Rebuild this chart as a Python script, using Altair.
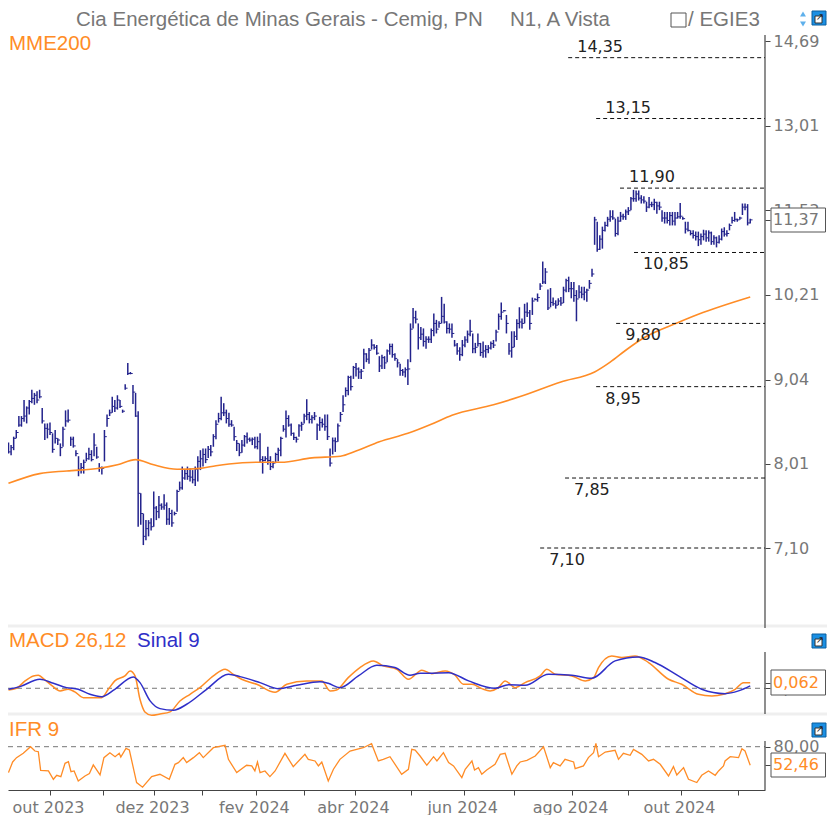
import altair as alt
import pandas as pd

highs = [
 8.26,8.23,8.33,8.41,8.58,8.58,8.78,8.70,8.78,8.91,
 8.87,8.89,8.91,8.68,8.49,8.49,8.50,8.37,8.41,8.31,
 8.25,8.45,8.65,8.66,8.33,8.33,8.17,8.10,8.02,8.06,
 8.14,8.20,8.17,8.37,8.21,8.02,7.98,8.41,8.60,8.66,
 8.82,8.78,8.84,8.78,8.66,8.98,9.26,9.14,8.97,8.87,
 8.64,7.68,7.46,7.39,7.39,7.41,7.70,7.54,7.65,7.57,
 7.67,7.58,7.52,7.50,7.48,7.72,7.81,7.98,7.94,7.98,
 7.96,7.94,7.98,8.10,8.17,8.19,8.19,8.22,8.23,8.36,
 8.53,8.62,8.82,8.74,8.66,8.62,8.53,8.45,8.29,8.25,
 8.29,8.35,8.38,8.32,8.32,8.33,8.33,8.37,8.10,8.10,
 8.21,8.10,8.04,8.14,8.20,8.33,8.47,8.65,8.59,8.49,
 8.38,8.33,8.48,8.51,8.61,8.79,8.63,8.59,8.63,8.49,
 8.57,8.55,8.60,8.60,8.19,8.32,8.32,8.49,8.63,8.84,
 8.94,9.09,9.09,9.22,9.26,9.20,9.18,9.45,9.39,9.46,
 9.58,9.51,9.50,9.35,9.37,9.35,9.44,9.52,9.52,9.39,
 9.31,9.25,9.18,9.20,9.31,9.80,10.02,9.98,9.80,9.75,
 9.73,9.62,9.62,9.73,9.94,9.85,9.83,10.18,10.08,9.83,
 9.80,9.80,9.57,9.53,9.47,9.57,9.62,9.70,9.85,9.66,
 9.53,9.66,9.53,9.55,9.50,9.50,9.55,9.57,9.71,9.94,
 10.10,9.99,9.92,9.53,9.69,9.69,9.86,10.03,9.87,10.08,
 10.10,9.99,10.17,10.16,10.23,10.38,10.71,10.61,10.29,10.31,
 10.17,10.13,10.16,10.18,10.33,10.45,10.48,10.40,10.40,10.28,
 10.35,10.33,10.33,10.30,10.43,10.60,11.42,11.34,11.12,11.26,
 11.34,11.42,11.53,11.53,11.39,11.42,11.50,11.47,11.54,11.58,
 11.75,11.87,11.86,11.86,11.78,11.76,11.67,11.75,11.67,11.72,
 11.67,11.67,11.53,11.50,11.50,11.50,11.50,11.50,11.50,11.65,
 11.42,11.34,11.34,11.20,11.20,11.18,11.18,11.15,11.21,11.20,
 11.20,11.18,11.12,11.10,11.12,11.23,11.25,11.20,11.31,11.42,11.50,
 11.39,11.42,11.64,11.64,11.63,11.39,
]
lows = [
 8.13,8.11,8.17,8.31,8.45,8.45,8.51,8.49,8.60,8.74,
 8.72,8.74,8.80,8.49,8.29,8.31,8.35,8.14,8.25,8.23,
 8.10,8.21,8.45,8.50,8.22,8.20,8.10,7.87,7.90,7.90,
 8.04,8.06,8.04,8.10,8.07,7.92,7.89,8.04,8.45,8.58,
 8.62,8.63,8.66,8.68,8.62,8.91,9.10,9.11,8.73,8.57,
 7.32,7.34,7.13,7.18,7.22,7.28,7.32,7.39,7.41,7.50,
 7.50,7.34,7.34,7.32,7.44,7.48,7.71,7.72,7.83,7.83,
 7.81,7.79,7.76,7.81,7.94,7.98,8.02,8.08,8.10,8.21,
 8.30,8.50,8.53,8.58,8.49,8.45,8.45,8.28,8.16,8.10,
 8.14,8.21,8.25,8.27,8.23,8.19,8.18,8.02,7.90,8.04,
 8.00,7.94,7.96,8.02,8.04,8.10,8.39,8.32,8.45,8.34,
 8.29,8.26,8.33,8.40,8.49,8.53,8.49,8.49,8.53,8.29,
 8.40,8.44,8.40,8.29,7.98,8.12,8.15,8.27,8.51,8.63,
 8.82,8.84,8.90,9.05,9.08,9.05,9.05,9.18,9.27,9.25,
 9.44,9.44,9.37,9.14,9.18,9.18,9.27,9.37,9.33,9.29,
 9.20,9.09,9.09,9.07,8.97,9.27,9.73,9.80,9.44,9.57,
 9.48,9.45,9.53,9.53,9.62,9.66,9.74,9.80,9.80,9.66,
 9.66,9.60,9.48,9.37,9.29,9.35,9.47,9.53,9.62,9.39,
 9.39,9.48,9.35,9.33,9.33,9.39,9.44,9.46,9.55,9.71,
 9.85,9.97,9.66,9.37,9.33,9.47,9.57,9.73,9.73,9.80,
 9.89,9.71,9.92,10.13,10.11,10.28,10.37,10.37,9.99,10.03,
 10.05,10.01,10.06,10.05,10.09,10.25,10.25,10.16,10.11,9.83,
 10.16,10.16,10.13,10.11,10.30,10.48,10.97,10.86,10.89,10.91,
 11.18,11.26,11.34,11.37,11.10,11.12,11.34,11.37,11.37,11.45,
 11.53,11.67,11.67,11.69,11.64,11.64,11.50,11.56,11.58,11.53,
 11.47,11.53,11.34,11.31,11.31,11.28,11.28,11.28,11.39,11.39,
 11.37,11.15,11.18,11.12,11.07,11.04,10.95,10.97,11.04,11.02,
 11.02,10.97,10.97,10.93,10.99,11.04,11.10,11.10,11.20,11.31,11.34,
 11.34,11.37,11.45,11.53,11.28,11.31,
]
closes = [
 8.15,8.20,8.31,8.38,8.47,8.55,8.58,8.68,8.76,8.80,
 8.84,8.78,8.82,8.52,8.43,8.42,8.38,8.18,8.31,8.29,
 8.20,8.42,8.52,8.53,8.30,8.22,8.13,7.95,7.97,8.03,
 8.07,8.12,8.06,8.23,8.09,7.97,7.96,8.33,8.55,8.62,
 8.70,8.68,8.78,8.70,8.64,8.93,9.12,9.12,8.88,8.58,
 7.68,7.46,7.22,7.30,7.36,7.32,7.52,7.48,7.55,7.53,
 7.55,7.40,7.46,7.36,7.46,7.70,7.74,7.85,7.90,7.87,
 7.86,7.83,7.95,8.04,8.07,8.12,8.06,8.18,8.15,8.33,
 8.48,8.55,8.62,8.62,8.55,8.48,8.47,8.33,8.25,8.14,
 8.23,8.33,8.30,8.29,8.30,8.21,8.27,8.06,8.05,8.07,
 8.05,7.98,8.02,8.12,8.17,8.31,8.42,8.55,8.47,8.37,
 8.32,8.30,8.46,8.48,8.58,8.60,8.54,8.56,8.58,8.47,
 8.50,8.48,8.45,8.33,8.02,8.28,8.27,8.46,8.60,8.72,
 8.90,9.07,8.95,9.20,9.18,9.14,9.15,9.38,9.31,9.43,
 9.50,9.47,9.39,9.22,9.33,9.26,9.42,9.48,9.37,9.32,
 9.26,9.16,9.14,9.17,9.18,9.72,9.88,9.86,9.60,9.65,
 9.55,9.58,9.58,9.70,9.80,9.72,9.80,9.90,9.82,9.73,
 9.72,9.66,9.50,9.42,9.37,9.50,9.57,9.65,9.69,9.45,
 9.47,9.52,9.40,9.42,9.44,9.46,9.52,9.50,9.68,9.90,
 9.96,9.98,9.80,9.42,9.47,9.62,9.80,9.82,9.80,9.96,
 9.95,9.80,10.12,10.14,10.17,10.34,10.40,10.55,10.02,10.10,
 10.08,10.06,10.12,10.09,10.28,10.42,10.30,10.30,10.20,10.15,
 10.25,10.22,10.25,10.28,10.38,10.52,11.37,10.90,11.06,11.20,
 11.28,11.38,11.42,11.40,11.15,11.35,11.43,11.42,11.50,11.52,
 11.72,11.72,11.80,11.73,11.70,11.68,11.58,11.62,11.62,11.66,
 11.60,11.58,11.40,11.40,11.36,11.44,11.35,11.40,11.42,11.43,
 11.39,11.22,11.20,11.15,11.12,11.10,11.05,11.10,11.14,11.08,
 11.16,11.02,11.08,11.01,11.06,11.18,11.14,11.15,11.28,11.36,11.38,
 11.37,11.40,11.58,11.58,11.32,11.37,
]

mme_idx = [0,12,22.5,35,42,49,56,65,74,80,85,97,105,117,128,134,143,154,163,171,187,197,213,226,232,238,245,258,266,286]
mme_val = [7.79,7.90,7.93,7.96,8.00,8.06,8.00,7.95,7.96,7.99,8.01,8.03,8.03,8.08,8.10,8.16,8.27,8.37,8.48,8.59,8.72,8.82,9.01,9.14,9.27,9.43,9.60,9.81,9.93,10.18]

macd_idx = [0,3.1,6.4,9.6,11.5,14,16.6,19.9,23,25.6,28.9,32,35.9,38.5,41,44.9,46.9,48.8,50.7,52.6,55.2,58.4,62.3,66.1,70,73.8,79,83.5,86.7,89.9,95.7,102.8,107.3,115,120.8,124,126.5,131,135.5,140.7,144.5,149.7,154.2,159.4,163.2,168.4,172.2,175.4,178.7,182.5,185.7,188.9,191.5,195.4,199.2,205,207.6,210.8,217.2,222.4,225.6,227.5,232.6,236.5,241.6,246.8,254.5,259.6,266,271.2,275.7,280.2,283.4,286]
macd_val = [-.018,0,.081,.136,.143,.092,.033,-.029,-.011,-.040,-.103,-.103,-.103,-.011,.081,.136,.191,.136,-.121,-.260,-.297,-.283,-.260,-.140,-.066,.007,.136,.209,.154,.099,.044,-.044,.044,.081,.081,-.029,-.018,.117,.228,.301,.246,.209,.099,.198,.161,.191,.143,.044,.044,-.004,-.029,.007,.081,.007,.062,.136,.209,.154,.136,.081,.117,.228,.356,.338,.356,.283,.099,.044,-.066,-.084,-.066,-.011,.062,.062]
sig_idx = [0,4.4,12.1,17.3,22.4,26.9,31.4,35.9,41,48.1,50.7,54.6,58.4,63.6,68.7,76.4,84.8,89.3,97,104,111.1,120.1,123.3,127.8,134.9,142,149,154.8,158.7,161.9,169.7,177.4,187.6,192.8,199.2,208.2,217.2,224.9,233.9,242.9,249.3,258.3,267.3,276.3,281.5,286]
sig_val = [-.011,.018,.099,.055,.007,-.011,-.066,-.092,-.011,.125,.062,-.139,-.224,-.242,-.176,-.011,.154,.128,.062,-.004,.033,.073,.055,.007,.136,.253,.228,.143,.165,.165,.172,.081,0,.040,.033,.154,.143,.110,.301,.345,.283,.136,-.011,-.059,-.029,.026]
ifr_idx = [0,1.6,3.1,5.7,8.5,10.2,11.5,12.4,15.4,17.3,18.6,20.2,21.8,23.1,24.1,25.3,26.9,29.5,31.2,32.7,35.3,36.8,39.1,41.1,42.7,43.3,45.3,46.6,49.4,51.7,55.2,58.4,62,64.2,65.5,67.4,68.7,71.3,73.6,75.1,79,83.5,84.8,88,91.8,93.8,95,96,97,98.9,100.8,102.8,106.6,109.8,114.3,115.6,118.2,119.5,120.8,123.3,125.3,127.8,131.7,136.8,140,142.6,144.5,147.1,151.6,154.2,155.5,156.8,158.7,161.3,163.9,165.2,167.7,169.7,171.6,174.8,176.1,178.7,179.7,181.2,182.5,184.4,187.6,189.6,191.5,194.1,196,197.3,199.9,203.1,206.3,208.9,210.1,212.7,214.6,217.9,218.5,221.7,223.6,225.6,226.5,227.5,230.1,233.9,235.2,237.1,239.7,241,244.2,246.8,248.7,251.3,254.5,256.4,257.7,260.3,262.2,265.4,267.3,269.9,272.5,273.8,275.7,276.3,278.3,281.5,282.8,284,286]
ifr_val = [41.6,57.4,63.8,70.2,80,73.6,72.6,45.1,44.1,31.8,37.7,35.7,55.4,57.9,43.1,44.1,29.3,36.7,40.2,53,38.2,63.8,71.1,65.2,70.2,64.8,77.5,75.1,26.9,20,35.7,39.2,31.8,53.9,56.4,63.8,56.4,63.8,71.1,63.8,78.5,82,61.3,41.6,52.5,51.5,44.1,57.4,41.6,44.1,35.7,44.1,70.2,50.5,68.7,61.3,58.9,51.5,57.4,29.3,46.6,61.3,73.6,78.5,84.4,58.9,61.3,65.2,39.2,46.6,76.1,75.1,66.2,52.5,65.2,58.9,71.1,56.4,51.5,34.3,46.6,58.9,45.6,49,39.2,45.6,53.9,68.7,70.2,39.2,51.5,57.4,59.8,66.2,80,49,56.4,51.5,61.3,57.4,47.5,51.5,63.8,71.1,84.9,65.2,72.1,74.6,61.3,70.2,67.2,76.1,68.7,58.9,61.3,53.9,36.7,50.5,38.2,49,31.8,26.9,37.7,44.1,37.7,44.1,51.5,58.9,65.2,63.8,77,73.6,52.46]

level_vals = [14.35,13.15,11.90,10.85,9.80,8.95,7.85,7.10]
level_text = ["14,35","13,15","11,90","10,85","9,80","8,95","7,85","7,10"]
level_start = [215.8,226.6,235.8,241.2,234.3,226.6,214.6,205.0]
level_above = [True,True,True,False,False,False,False,False]

price_ticks = [7.10,8.01,9.04,10.21,11.37,11.53,13.01,14.69]
month_ticks = [16.0,36.4,56.1,74.6,95.4,114.0,133.6,155.2,175.7,194.9,217.3,238.9,259.3,281.3]
month_names = ["out 2023","","dez 2023","","fev 2024","","abr 2024","","jun 2024","","ago 2024","","out 2024",""]

GREY = "#777777"
DARK = "#444444"
ORANGE = "#ff8c26"
NAVY = "#23238c"
BLUE = "#2f2fc8"
NUM = "DejaVu Sans"
SANS = "Liberation Sans"
W = 757
X_END = 291.7
one = alt.Data(values=[{"a": 1}])


def txt(s, x, y, color=GREY, size=20.5, font=SANS, align="left"):
    return alt.Chart(one).mark_text(text=s, color=color, fontSize=size, font=font, align=align, baseline="middle").encode(
        x=alt.value(x), y=alt.value(y))


def vline(y0, y1):
    return alt.Chart(one).mark_rule(color=DARK, strokeWidth=1.2).encode(x=alt.value(W), y=alt.value(y0), y2=alt.value(y1))


def box(y0, y1):
    return alt.Chart(one).mark_rect(fill="white", stroke="#555555", strokeWidth=1).encode(
        x=alt.value(763), x2=alt.value(817.5), y=alt.value(y0), y2=alt.value(y1))


def icon(x, y):
    sq = alt.Chart(one).mark_rect(fill="#1a8fe3", stroke="#0b5f9e").encode(
        x=alt.value(x - 7), x2=alt.value(x + 7), y=alt.value(y - 7), y2=alt.value(y + 7))
    inner = alt.Chart(one).mark_rect(fill="white", stroke="#333333", strokeWidth=1).encode(
        x=alt.value(x - 4), x2=alt.value(x + 3), y=alt.value(y - 2), y2=alt.value(y + 5))
    arrow = alt.Chart(one).mark_text(text="↗", color="#222222", fontSize=10, font=NUM).encode(
        x=alt.value(x + 1), y=alt.value(y - 1))
    return [sq, inner, arrow]


def sep(y):
    return alt.Chart(one).mark_rule(color="#efefef", strokeWidth=3).encode(
        x=alt.value(0), x2=alt.value(819), y=alt.value(y))


fmt2 = "(datum.value==11.37||datum.value==0.062||datum.value==52.46)?'':replace(format(datum.value,'.2f'),'.',',')"
xscale = alt.Scale(domain=[-0.19, X_END], nice=False, zero=False)


def yaxis(values):
    return alt.Axis(values=values, orient="right", title=None, grid=False, domain=False, tickColor=DARK, tickSize=5,
                    labelColor=GREY, labelFont=NUM, labelFontSize=16, labelPadding=3, labelExpr=fmt2, labelOverlap=False)


# ---------- price panel ----------
bars = pd.DataFrame({"i": range(len(highs)), "high": highs, "low": lows, "close": closes})
bars["ir"] = bars["i"] + 0.9
mme = pd.DataFrame({"i": mme_idx, "v": mme_val})
levels = pd.DataFrame({"v": level_vals, "t": level_text, "s": level_start, "above": level_above})
levels["e"] = X_END
levels["lx"] = levels["s"] + 3.5

ys = alt.Scale(type="log", domain=[6.33, 15.41], nice=False, zero=False)
X0 = alt.X("i:Q", scale=xscale, axis=None)
pa = yaxis(price_ticks)

range_rules = alt.Chart(bars).mark_rule(color=NAVY, strokeWidth=1.5).encode(
    x=X0, y=alt.Y("low:Q", scale=ys, axis=pa), y2="high:Q")
close_ticks = alt.Chart(bars).mark_rule(color=NAVY, strokeWidth=1).encode(
    x=X0, x2="ir:Q", y=alt.Y("close:Q", scale=ys, axis=pa))
mme_line = alt.Chart(mme).mark_line(color=ORANGE, strokeWidth=1.6, interpolate="monotone").encode(
    x=X0, y=alt.Y("v:Q", scale=ys, axis=pa))
lev_rules = alt.Chart(levels).mark_rule(color="#111111", strokeWidth=1, strokeDash=[4, 3]).encode(
    x=alt.X("s:Q", scale=xscale, axis=None), x2="e:Q", y=alt.Y("v:Q", scale=ys, axis=pa))
lab_up = alt.Chart(levels[levels.above]).mark_text(align="left", baseline="middle", dy=-11, fontSize=16, font=NUM, color="#222222").encode(
    x=alt.X("lx:Q", scale=xscale, axis=None), y=alt.Y("v:Q", scale=ys, axis=pa), text="t:N")
lab_dn = alt.Chart(levels[~levels.above]).mark_text(align="left", baseline="middle", dy=12, fontSize=16, font=NUM, color="#222222").encode(
    x=alt.X("lx:Q", scale=xscale, axis=None), y=alt.Y("v:Q", scale=ys, axis=pa), text="t:N")

head = [
    txt("Cia Energética de Minas Gerais - Cemig, PN", 68, 12),
    txt("N1, A Vista", 502, 12),
    alt.Chart(one).mark_rect(fill="white", stroke="#555555").encode(
        x=alt.value(663), x2=alt.value(678), y=alt.value(5), y2=alt.value(19)),
    txt("/ EGIE3", 680, 12),
    txt("MME200", 1, 36, color=ORANGE),
    alt.Chart(one).mark_point(shape="triangle-up", filled=True, color="#1a8fe3", size=35).encode(x=alt.value(795), y=alt.value(6)),
    alt.Chart(one).mark_point(shape="triangle-down", filled=True, color="#1a8fe3", size=35).encode(x=alt.value(795), y=alt.value(16)),
]
main = alt.layer(
    sep(618), vline(27, 620), range_rules, close_ticks, mme_line, lev_rules, lab_up, lab_dn,
    *head, *icon(811, 10), box(200, 224),
    alt.Chart(pd.DataFrame({"v": [11.37]})).mark_text(text="11,37", align="left", baseline="middle", fontSize=16, font=NUM, color=GREY).encode(
        x=alt.value(765), y=alt.Y("v:Q", scale=ys, axis=pa)),
).properties(width=W, height=620)

# ---------- MACD panel ----------
macd = pd.DataFrame({"i": macd_idx, "v": macd_val})
sig = pd.DataFrame({"i": sig_idx, "v": sig_val})
zero = pd.DataFrame({"v": [0.0], "s": [-0.19], "e": [X_END]})
ym = alt.Scale(domain=[-0.272, 0.652], nice=False, zero=False)
ma = yaxis([0, 0.062])
macd_line = alt.Chart(macd).mark_line(color=ORANGE, strokeWidth=1.5, interpolate="monotone").encode(
    x=X0, y=alt.Y("v:Q", scale=ym, axis=ma))
sig_line = alt.Chart(sig).mark_line(color=BLUE, strokeWidth=1.5, interpolate="monotone").encode(
    x=X0, y=alt.Y("v:Q", scale=ym, axis=ma))
zero_line = alt.Chart(zero).mark_rule(color=GREY, strokeWidth=1, strokeDash=[5, 4]).encode(
    x=alt.X("s:Q", scale=xscale, axis=None), x2="e:Q", y=alt.Y("v:Q", scale=ym, axis=ma))
macd_panel = alt.layer(
    sep(85), zero_line, vline(23, 85), macd_line, sig_line,
    txt("MACD 26,12", 1, 12, color=ORANGE), txt("Sinal 9", 129, 12, color=BLUE),
    *icon(811, 12), box(41, 66),
    alt.Chart(pd.DataFrame({"v": [0.062]})).mark_text(text="0,062", align="left", baseline="middle", fontSize=16, font=NUM, color=ORANGE).encode(
        x=alt.value(765), y=alt.Y("v:Q", scale=ym, axis=ma)),
).properties(width=W, height=84)

# ---------- IFR panel ----------
ifr = pd.DataFrame({"i": ifr_idx, "v": ifr_val})
eighty = pd.DataFrame({"v": [80.0], "s": [-0.19], "e": [X_END]})
yi = alt.Scale(domain=[15.9, 121.0], nice=False, zero=False)
ia = yaxis([80, 52.46])
bottom_axis = alt.Axis(
    values=month_ticks, title=None, grid=False, domainColor=DARK, tickColor=DARK, tickSize=5, domainWidth=1.2,
    labelColor=GREY, labelFont=NUM, labelFontSize=16, labelPadding=4, labelOffset=-2, labelOverlap=False,
    labelExpr="%s[indexof(%s,datum.value)]" % (str(month_names), str(month_ticks)))
ifr_line = alt.Chart(ifr).mark_line(color=ORANGE, strokeWidth=1.3).encode(
    x=alt.X("i:Q", scale=xscale, axis=bottom_axis), y=alt.Y("v:Q", scale=yi, axis=ia))
eighty_line = alt.Chart(eighty).mark_rule(color=GREY, strokeWidth=1, strokeDash=[5, 4]).encode(
    x=alt.X("s:Q", scale=xscale, axis=bottom_axis), x2="e:Q", y=alt.Y("v:Q", scale=yi, axis=ia))
ifr_panel = alt.layer(
    eighty_line, vline(22, 71), ifr_line,
    txt("IFR 9", 1, 11, color=ORANGE),
    *icon(811, 11), box(34, 58),
    alt.Chart(pd.DataFrame({"v": [52.46]})).mark_text(text="52,46", align="left", baseline="middle", fontSize=16, font=NUM, color=ORANGE).encode(
        x=alt.value(765), y=alt.Y("v:Q", scale=yi, axis=ia)),
).properties(width=W, height=71)

chart = alt.vconcat(main, macd_panel, ifr_panel, spacing=0).properties(
    padding={"left": -3, "top": 0, "right": -2, "bottom": 0}, background="white"
).configure_view(stroke=None)

chart.save("out.html", embed_options={"renderer": "svg", "actions": False})
